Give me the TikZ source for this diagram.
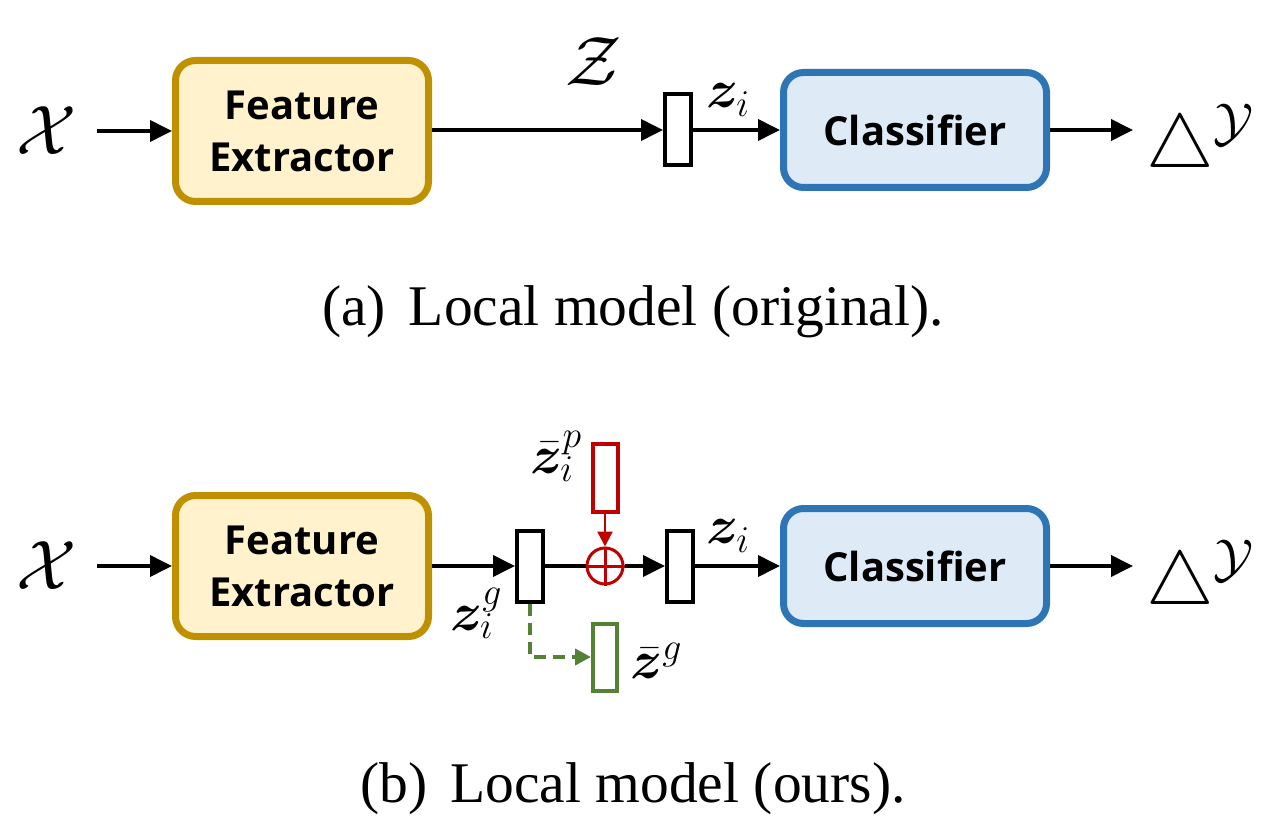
\RequirePackage{fix-cm}
\documentclass[tikz,border=0pt]{standalone}
\usepackage{bm}
\usepackage{fontspec}
\setmainfont{Liberation Serif}
\setsansfont{Open Sans}
\usetikzlibrary{arrows.meta}

\definecolor{feFill}{HTML}{FFF2CC}
\definecolor{feLine}{HTML}{BF9000}
\definecolor{clFill}{HTML}{DEEBF7}
\definecolor{clLine}{HTML}{2E75B6}
\definecolor{addRed}{HTML}{C00000}
\definecolor{avgGreen}{HTML}{548235}

\begin{document}
\begin{tikzpicture}[x=1pt,y=-1pt,
  box/.style={rounded corners=20pt,line width=7pt,minimum height=141pt,align=center,
    font=\fontsize{40}{52}\selectfont\sffamily\bfseries},
  fe/.style={box,draw=feLine,fill=feFill,minimum width=253pt},
  cls/.style={box,draw=clLine,fill=clFill,minimum width=263pt,minimum height=115pt},
  vec/.style={draw,line width=4pt,minimum width=26pt,minimum height=71pt,inner sep=0pt},
  flow/.style={line width=3.8pt,-{Triangle[length=22pt,width=21pt]}},
  big/.style={font=\fontsize{70}{70}\selectfont,inner sep=0pt},
  simplex/.style={font=\fontsize{76}{76}\selectfont,inner sep=0pt,inner xsep=13pt,anchor=base west},
  lab/.style={font=\fontsize{54}{54}\selectfont,inner sep=0pt},
  captext/.style={font=\fontsize{57.5}{60}\selectfont,inner sep=0pt}]
\useasboundingbox (0,0) rectangle (1283,829);

% (a) Local model (original)
\node[big,inner xsep=20pt] (xa) at (47,131) {$\mathcal{X}$};
\node[fe] (fea) at (302,131) {Feature\\Extractor};
\node[vec] (za) at (678,130) {};
\node[cls] (cla) at (915,130) {Classifier};
\node[simplex] (ya) at (1133,168) {$\triangle^{\mathcal{Y}}$};
\node[big] (zsp) at (594,62) {$\mathcal{Z}$};
\node[lab] (zia) at (728,100) {$\bm{z}_i$};

\draw[flow] (xa.east) -- (fea.west);
\draw[flow] (fea.east |- za) -- (za.west);
\draw[flow] (za.east) -- (cla.west);
\draw[flow] (cla.east) -- (cla.east -| ya.west);

\node[captext] (capa) at (633,312) {(a)\hspace{0.4em}Local model (original).};

% (b) Local model (ours)
\node[big,inner xsep=20pt] (xb) at (47,566) {$\mathcal{X}$};
\node[fe] (feb) at (302,566) {Feature\\Extractor};
\node[vec] (zg) at (530,566) {};
\node[circle,draw=addRed,line width=3pt,minimum size=36pt,inner sep=0pt] (add) at (605,566) {};
\node[vec,draw=addRed,minimum width=25pt,minimum height=68pt] (zp) at (605,478) {};
\node[vec,draw=avgGreen,minimum width=24pt,minimum height=67pt] (zbar) at (605,657) {};
\node[vec] (zb) at (680,566) {};
\node[cls] (clb) at (915,566) {Classifier};
\node[simplex] (yb) at (1133,604) {$\triangle^{\mathcal{Y}}$};

\node[lab] (zgl) at (476,613) {$\bm{z}_i^g$};
\node[lab] (zpl) at (556,456) {$\bar{\bm{z}}_i^p$};
\node[lab] (zbarl) at (656,661) {$\bar{\bm{z}}^g$};
\node[lab] (zib) at (728,536) {$\bm{z}_i$};

\draw[flow] (xb.east) -- (feb.west);
\draw[flow] (feb.east) -- (zg.west);
\draw[line width=3.8pt] (zg.east) -- (add.west);
\draw[addRed,line width=3pt] (add.north) -- (add.south) (add.west) -- (add.east);
\draw[addRed,line width=2.5pt,-{Triangle[length=15pt,width=15pt]}] (zp.south) -- (add.north);
\draw[avgGreen,line width=4pt,dash pattern=on 12pt off 7pt,-{Triangle[length=16pt,width=16pt]}]
  (zg.south) |- (zbar.west);
\draw[flow] (add.east) -- (zb.west);
\draw[flow] (zb.east) -- (clb.west);
\draw[flow] (clb.east) -- (clb.east -| yb.west);

\node[captext] (capb) at (633,789) {(b)\hspace{0.4em}Local model (ours).};
\end{tikzpicture}
\end{document}
